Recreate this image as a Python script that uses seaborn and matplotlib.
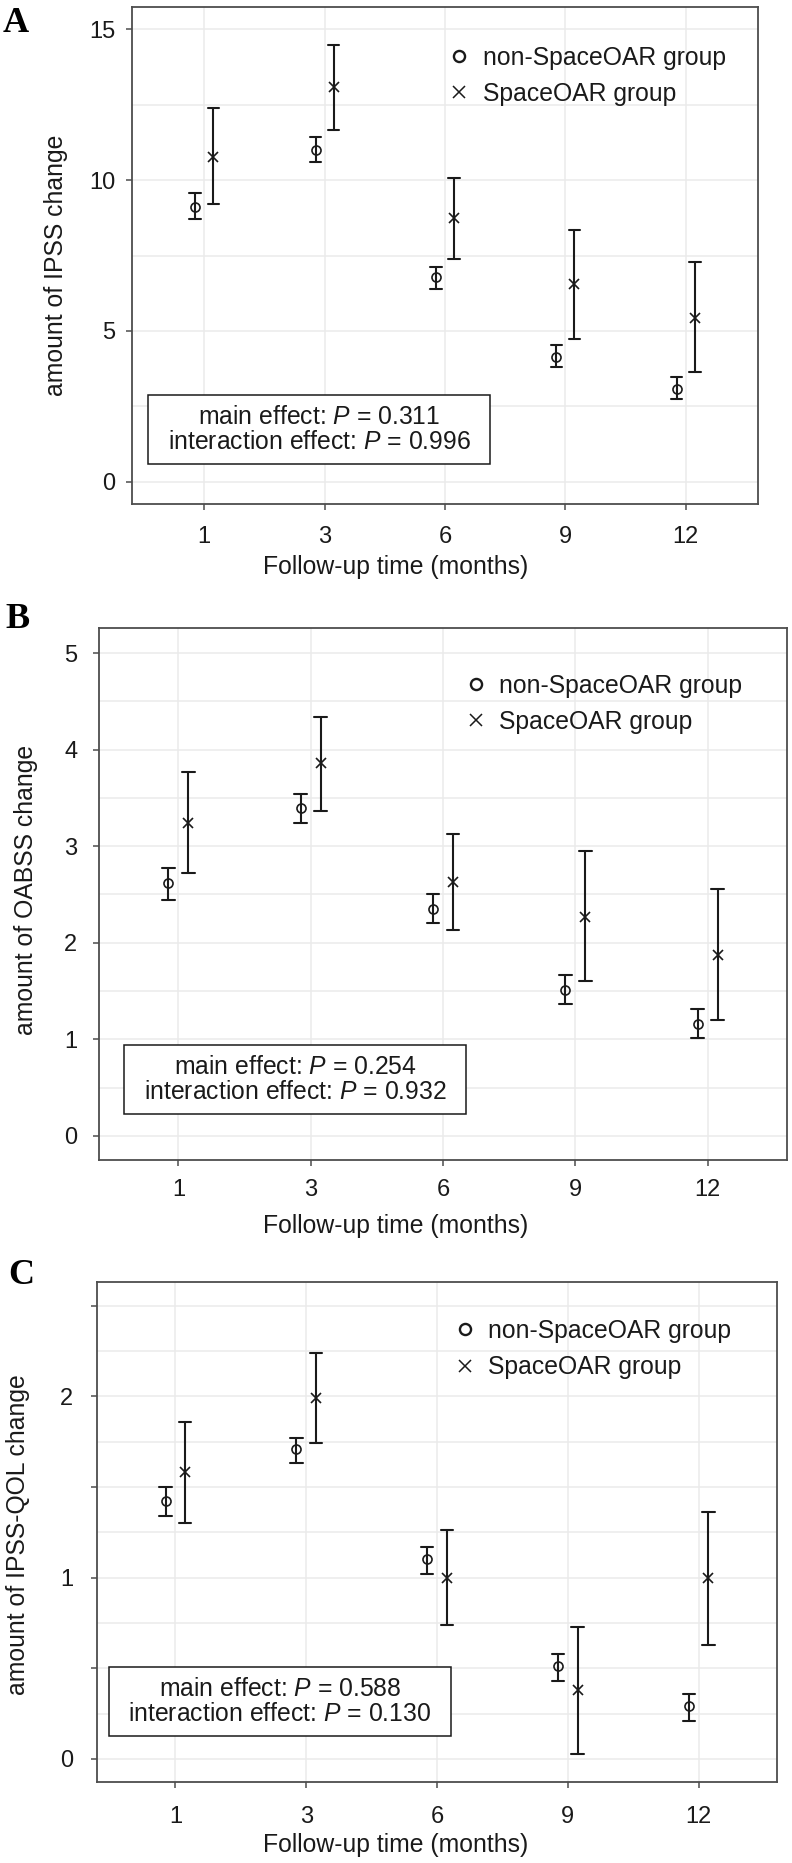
import numpy as np
import pandas as pd
import seaborn as sns
import matplotlib.pyplot as plt
from matplotlib.lines import Line2D
from matplotlib.patches import Rectangle
from matplotlib.ticker import MultipleLocator, FuncFormatter

# follow-up months and groups
times = ["1", "3", "6", "9", "12"]
groups = ["non-SpaceOAR group", "SpaceOAR group"]

# A: IPSS change (mean with lower / upper error bar ends)
ipss_non_mean = [9.11, 10.99, 6.79, 4.14, 3.08]
ipss_non_lo = [8.71, 10.60, 6.39, 3.81, 2.75]
ipss_non_hi = [9.57, 11.42, 7.12, 4.54, 3.48]
ipss_spc_mean = [10.76, 13.08, 8.74, 6.56, 5.43]
ipss_spc_lo = [9.20, 11.66, 7.38, 4.74, 3.64]
ipss_spc_hi = [12.38, 14.47, 10.07, 8.34, 7.28]

# B: OABSS change
oabss_non_mean = [2.62, 3.40, 2.35, 1.51, 1.16]
oabss_non_lo = [2.44, 3.24, 2.20, 1.37, 1.01]
oabss_non_hi = [2.77, 3.54, 2.50, 1.67, 1.31]
oabss_spc_mean = [3.24, 3.86, 2.63, 2.27, 1.87]
oabss_spc_lo = [2.72, 3.36, 2.13, 1.60, 1.20]
oabss_spc_hi = [3.77, 4.34, 3.13, 2.95, 2.56]

# C: IPSS-QOL change
qol_non_mean = [1.42, 1.71, 1.10, 0.51, 0.29]
qol_non_lo = [1.34, 1.63, 1.02, 0.43, 0.21]
qol_non_hi = [1.50, 1.77, 1.17, 0.58, 0.36]
qol_spc_mean = [1.58, 1.99, 1.00, 0.38, 1.00]
qol_spc_lo = [1.30, 1.74, 0.74, 0.03, 0.63]
qol_spc_hi = [1.86, 2.24, 1.26, 0.73, 1.36]

# p values shown in the boxes
p_main = ["0.311", "0.254", "0.588"]
p_inter = ["0.996", "0.932", "0.130"]


def long_form(non, spc):
    """lo / mean / hi rows per time and group -> median gives the mean, full range gives the bar"""
    rows = []
    for grp, (lo, mean, hi) in zip(groups, [non, spc]):
        for i, t in enumerate(times):
            for v in (lo[i], mean[i], hi[i]):
                rows.append({"time": t, "group": grp, "value": v})
    return pd.DataFrame(rows)


df_a = long_form((ipss_non_lo, ipss_non_mean, ipss_non_hi), (ipss_spc_lo, ipss_spc_mean, ipss_spc_hi))
df_b = long_form((oabss_non_lo, oabss_non_mean, oabss_non_hi), (oabss_spc_lo, oabss_spc_mean, oabss_spc_hi))
df_c = long_form((qol_non_lo, qol_non_mean, qol_non_hi), (qol_spc_lo, qol_spc_mean, qol_spc_hi))

sns.set_theme(style="whitegrid")
plt.rcParams["font.family"] = ["Liberation Sans", "DejaVu Sans"]
plt.rcParams["mathtext.fontset"] = "custom"
plt.rcParams["mathtext.it"] = "Liberation Sans:italic"
plt.rcParams["mathtext.rm"] = "Liberation Sans"

W, H = 792, 1863
fig = plt.figure(figsize=(W / 100, H / 100), dpi=100)
ink = "#1a1a1a"
frame = "#4d4d4d"
fs = 17.8

# layout per panel, in pixels of the final image
panels = [
    dict(df=df_a, letter="A", ylabel="amount of IPSS change",
         box_px=(132, 7, 758, 504), ylim=(-0.73, 15.73), major=5, minor=2.5,
         ann=(0.0256, 0.0805, 0.5719, 0.2193), leg=(0.503, 0.922),
         ylab_px=(68, 265), xlab_y=555, xpad=12, ypad=8, letter_px=(3, 32)),
    dict(df=df_b, letter="B", ylabel="amount of OABSS change",
         box_px=(99, 628, 787, 1160), ylim=(-0.25, 5.26), major=1, minor=0.5,
         ann=(0.0363, 0.0865, 0.5334, 0.2162), leg=(0.530, 0.914),
         ylab_px=(38, 890), xlab_y=1214, xpad=9.4, ypad=11.5, letter_px=(5, 628)),
    dict(df=df_c, letter="C", ylabel="amount of IPSS-QOL change",
         box_px=(97, 1282, 777, 1782), ylim=(-0.127, 2.63), major=0.5, minor=0.25,
         ann=(0.0176, 0.092, 0.5206, 0.23), leg=(0.523, 0.926),
         ylab_px=(30, 1535), xlab_y=1833, xpad=13, ypad=13, letter_px=(8, 1284)),
]

int_only = FuncFormatter(lambda v, p: f"{v:g}" if abs(v - round(v)) < 1e-6 else "")

for k, p in enumerate(panels):
    x0, y0, x1, y1 = p["box_px"]
    ax = fig.add_axes([x0 / W, 1 - y1 / H, (x1 - x0) / W, (y1 - y0) / H])

    sns.pointplot(data=p["df"], x="time", y="value", hue="group",
                  order=times, hue_order=groups,
                  estimator="median", errorbar=("pi", 100),
                  dodge=0.15, markers=["o", "x"], linestyles="none",
                  palette={g: ink for g in groups}, capsize=0.095,
                  linewidth=1.5, markersize=6.5, markeredgewidth=1.2,
                  markerfacecolor="none", legend=False, ax=ax)

    ax.set_xlim(-0.6, 4.6)
    ax.set_ylim(*p["ylim"])
    ax.yaxis.set_major_locator(MultipleLocator(p["major"]))
    ax.yaxis.set_minor_locator(MultipleLocator(p["minor"]))
    ax.yaxis.set_major_formatter(int_only)

    ax.set_axisbelow(True)
    ax.grid(True, which="both", axis="y", color="#ebebeb", lw=1.1)
    ax.xaxis.grid(True, color="#ebebeb", lw=1.1)

    for s in ax.spines.values():
        s.set_visible(True)
        s.set_color(frame)
        s.set_linewidth(1.3)

    ax.tick_params(axis="both", which="major", length=4, width=1.1, color=frame,
                   labelsize=17, labelcolor=ink, bottom=True, left=True)
    ax.tick_params(axis="x", pad=p["xpad"])
    ax.tick_params(axis="y", pad=p["ypad"])
    ax.tick_params(which="minor", length=0)

    ax.set_xlabel("Follow-up time (months)", fontsize=fs, color=ink)
    ax.set_ylabel(p["ylabel"], fontsize=fs, color=ink)
    ax.xaxis.set_label_coords(0.5, 1 - p["xlab_y"] / H, transform=fig.transFigure)
    lx, ly = p["ylab_px"]
    ax.yaxis.set_label_coords(lx / W, 1 - ly / H, transform=fig.transFigure)

    # legend, markers only
    handles = [
        Line2D([], [], ls="none", marker="o", mfc="none", mec=ink, ms=8, mew=1.7),
        Line2D([], [], ls="none", marker="x", color=ink, ms=8, mew=1.1),
    ]
    ax.legend(handles, groups, loc="upper left", bbox_to_anchor=p["leg"],
              frameon=False, fontsize=fs, handlelength=1.0, handletextpad=0.45,
              labelspacing=0.5, borderpad=0, borderaxespad=0, labelcolor=ink)

    # p value box
    bx0, by0, bx1, by1 = p["ann"]
    ax.add_patch(Rectangle((bx0, by0), bx1 - bx0, by1 - by0, transform=ax.transAxes,
                           facecolor="white", edgecolor=ink, lw=1.1, zorder=5))
    ax.text((bx0 + bx1) / 2, (by0 + by1) / 2,
            f"main effect: $\\mathit{{P}}$ = {p_main[k]}\n"
            f"interaction effect: $\\mathit{{P}}$ = {p_inter[k]}",
            transform=ax.transAxes, ha="center", va="center", fontsize=fs,
            color=ink, linespacing=1.1, zorder=6)

    px, py = p["letter_px"]
    fig.text(px / W, 1 - py / H, p["letter"], family=["Liberation Serif", "DejaVu Serif"],
             weight="bold", fontsize=26, va="baseline", ha="left", color="black")

fig.savefig("out.png", dpi=100)
